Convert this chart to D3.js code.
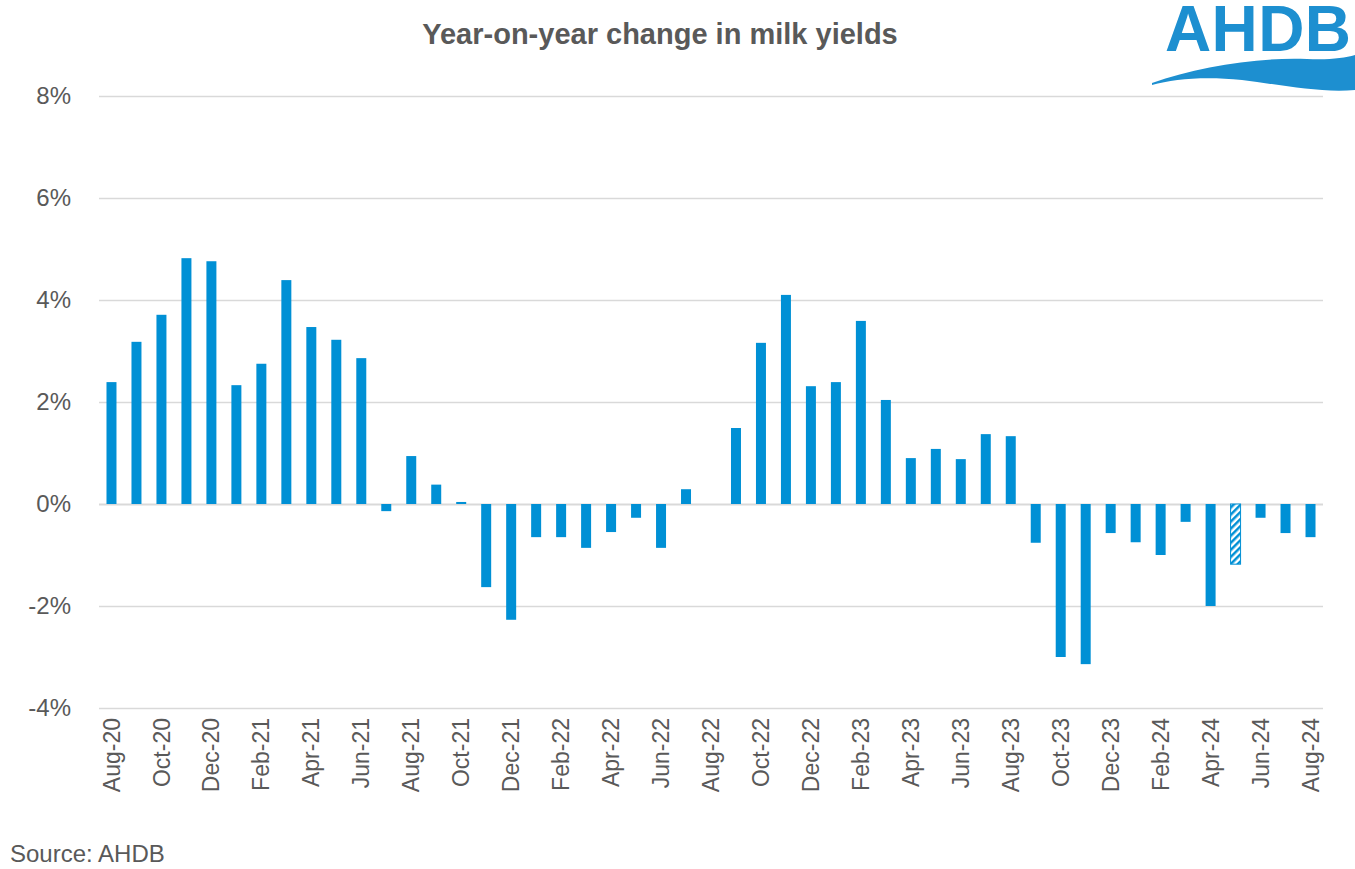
<!DOCTYPE html>
<html>
<head>
<meta charset="utf-8">
<script src="https://cdn.jsdelivr.net/npm/d3@7"></script>
<style>
  body { margin: 0; background: #fff; }
  svg { display: block; font-family: Arial, "Liberation Sans", sans-serif; }
</style>
</head>
<body>
<svg id="chart" width="1355" height="869"></svg>
<script>
'use strict';

// monthly labels Aug-20 .. Aug-24
var months = ['Aug-20', 'Sep-20', 'Oct-20', 'Nov-20', 'Dec-20', 'Jan-21', 'Feb-21', 'Mar-21', 'Apr-21', 'May-21',
    'Jun-21', 'Jul-21', 'Aug-21', 'Sep-21', 'Oct-21', 'Nov-21', 'Dec-21', 'Jan-22', 'Feb-22', 'Mar-22',
    'Apr-22', 'May-22', 'Jun-22', 'Jul-22', 'Aug-22', 'Sep-22', 'Oct-22', 'Nov-22', 'Dec-22', 'Jan-23',
    'Feb-23', 'Mar-23', 'Apr-23', 'May-23', 'Jun-23', 'Jul-23', 'Aug-23', 'Sep-23', 'Oct-23', 'Nov-23',
    'Dec-23', 'Jan-24', 'Feb-24', 'Mar-24', 'Apr-24', 'May-24', 'Jun-24', 'Jul-24', 'Aug-24'];

// year-on-year change, %
var yoyChange = [2.39, 3.18, 3.71, 4.82, 4.76, 2.33, 2.75, 4.39, 3.47, 3.22,
    2.86, -0.14, 0.94, 0.38, 0.04, -1.63, -2.27, -0.65, -0.65, -0.86,
    -0.55, -0.27, -0.86, 0.29, 0.0, 1.49, 3.16, 4.10, 2.31, 2.39,
    3.59, 2.04, 0.90, 1.08, 0.88, 1.37, 1.33, -0.76, -3.00, -3.14,
    -0.57, -0.75, -1.00, -0.35, -2.00, -1.18, -0.27, -0.57, -0.65];

// estimated months (hatched)
var estimated = ['May-24'];

var yTicks = [-4, -2, 0, 2, 4, 6, 8];

var svg = d3.select('#chart');
var margin = { left: 99, right: 32, top: 96, bottom: 161 };
var width = 1355 - margin.left - margin.right;
var height = 869 - margin.top - margin.bottom;
var blue = '#0090d5';
var grey = '#595959';

var defs = svg.append('defs');
var pat = defs.append('pattern')
    .attr('id', 'hatch')
    .attr('patternUnits', 'userSpaceOnUse')
    .attr('width', 5)
    .attr('height', 5)
    .attr('patternTransform', 'rotate(45)');
pat.append('rect').attr('width', 5).attr('height', 5).attr('fill', '#fff');
pat.append('rect').attr('width', 2.5).attr('height', 5).attr('fill', blue);

var x = d3.scaleBand()
    .domain(months)
    .range([0, width])
    .paddingInner(0.6)
    .paddingOuter(0.3);

var y = d3.scaleLinear()
    .domain([-4, 8])
    .range([height, 0]);

var g = svg.append('g')
    .attr('transform', 'translate(' + margin.left + ',' + margin.top + ')');

// gridlines
g.selectAll('line.grid')
    .data(yTicks)
    .enter()
    .append('line')
    .attr('class', 'grid')
    .attr('x1', 0)
    .attr('x2', width)
    .attr('y1', function (d) { return Math.round(y(d)) + 0.5; })
    .attr('y2', function (d) { return Math.round(y(d)) + 0.5; })
    .attr('stroke', '#d9d9d9')
    .attr('stroke-width', function (d) { return d === 0 ? 2 : 1.5; });

// y axis labels
var yAxis = d3.axisLeft(y)
    .tickValues(yTicks)
    .tickSize(0)
    .tickPadding(28)
    .tickFormat(function (d) { return d + '%'; });
var ya = g.append('g').call(yAxis);
ya.select('.domain').remove();
ya.selectAll('text')
    .attr('fill', grey)
    .attr('font-size', 24);

// bars
g.selectAll('rect.bar')
    .data(months)
    .enter()
    .append('rect')
    .attr('class', 'bar')
    .attr('x', function (d) { return x(d); })
    .attr('width', x.bandwidth())
    .attr('y', function (d, i) { return y(Math.max(0, yoyChange[i])); })
    .attr('height', function (d, i) { return Math.abs(y(yoyChange[i]) - y(0)); })
    .attr('fill', function (d) { return estimated.indexOf(d) >= 0 ? 'url(#hatch)' : blue; })
    .attr('stroke', function (d) { return estimated.indexOf(d) >= 0 ? blue : 'none'; })
    .attr('stroke-width', 1);

// x axis labels, every second month
var xAxis = d3.axisBottom(x)
    .tickValues(months.filter(function (d, i) { return i % 2 === 0; }))
    .tickSize(0)
    .tickPadding(0);
var xa = g.append('g')
    .attr('transform', 'translate(0,' + (height + 10) + ')')
    .call(xAxis);
xa.select('.domain').remove();
xa.selectAll('text')
    .attr('fill', grey)
    .attr('font-size', 23)
    .attr('text-anchor', 'end')
    .attr('dy', '0.35em')
    .attr('transform', 'rotate(-90)')
    .attr('x', 0)
    .attr('y', 0);

// title
svg.append('text')
    .attr('x', 660)
    .attr('y', 44)
    .attr('text-anchor', 'middle')
    .attr('font-size', 29)
    .attr('font-weight', 'bold')
    .attr('fill', grey)
    .text('Year-on-year change in milk yields');

// source
svg.append('text')
    .attr('x', 10)
    .attr('y', 862)
    .attr('font-size', 24)
    .attr('fill', grey)
    .text('Source: AHDB');

// logo
var logo = svg.append('g');
logo.append('text')
    .attr('x', 1258)
    .attr('y', 51)
    .attr('text-anchor', 'middle')
    .attr('font-size', 64)
    .attr('font-weight', 'bold')
    .attr('fill', '#1d8fd0')
    .attr('textLength', 186)
    .text('AHDB');
logo.append('path')
    .attr('d', 'M1152,83 C1197,67 1257,57 1307,59 C1330,60 1344,58 1355,55 L1355,90 C1320,93 1282,85 1242,80 C1204,76 1174,79 1152,85 Z')
    .attr('fill', '#1d8fd0');
</script>
</body>
</html>
